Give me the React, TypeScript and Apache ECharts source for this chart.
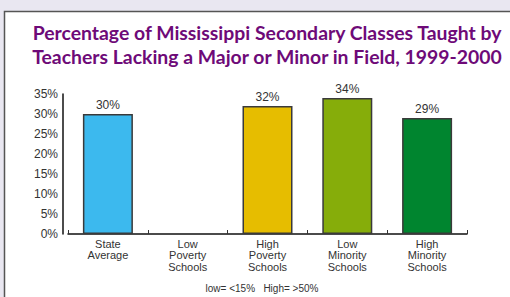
import React, { useEffect, useRef } from "react";
import * as echarts from "echarts";

const categories = ["State\nAverage", "Low\nPoverty\nSchools", "High\nPoverty\nSchools", "Low\nMinority\nSchools", "High\nMinority\nSchools"];
const values: (number | null)[] = [30, null, 32, 34, 29];
const barColors = ["#3cb9ee", "#cccccc", "#e6bd00", "#86ad0a", "#00852f"];
const yTicks = { min: 0, max: 35, interval: 5 };
const titleText = "Percentage of Mississippi Secondary Classes Taught by\nTeachers Lacking a Major or Minor in Field, 1999-2000";
const footnote = "low= <15%   High= >50%";

export default function App() {
  const ref = useRef<HTMLDivElement>(null);
  useEffect(() => {
    if (!ref.current) return;
    const chart = echarts.init(ref.current, undefined, { renderer: "svg" });
    chart.setOption({
      animation: false,
      backgroundColor: "#e9e7f1",
      textStyle: { fontFamily: "Liberation Sans" },
      graphic: [
        {
          type: "rect",
          shape: { x: 4.5, y: 11.5, width: 520, height: 300 },
          style: { fill: "#ffffff", stroke: "#555555", lineWidth: 1.5 },
          z: -10,
        },
        {
          type: "text",
          x: 262,
          y: 288,
          style: {
            text: footnote,
            fill: "#333333",
            font: "10px Liberation Sans",
            align: "center",
            verticalAlign: "middle",
          },
        },
      ],
      title: {
        text: titleText,
        left: 262,
        textAlign: "center",
        top: 15,
        textStyle: {
          color: "#6e0a78",
          fontSize: 19.4,
          fontWeight: "bold",
          lineHeight: 24,
          fontFamily: "Lato",
        },
      },
      grid: { left: 68, right: 43, top: 94, bottom: 63, containLabel: false },
      xAxis: {
        type: "category",
        data: categories,
        axisLine: { lineStyle: { color: "#111111", width: 1.5 } },
        axisTick: { show: true, inside: true, length: 4, alignWithLabel: false, lineStyle: { color: "#333" } },
        axisLabel: { color: "#333333", fontSize: 11, lineHeight: 11.5, margin: 4, interval: 0 },
      },
      yAxis: {
        type: "value",
        min: yTicks.min,
        max: yTicks.max,
        interval: yTicks.interval,
        offset: 5,
        axisLine: { show: true, lineStyle: { color: "#111111", width: 1.5 } },
        axisTick: { show: false },
        splitLine: { show: false },
        axisLabel: { color: "#333333", fontSize: 12, formatter: "{value}%", margin: 5 },
      },
      series: [
        {
          type: "bar",
          barWidth: 50,
          data: values.map((v, i) => ({
            value: v === null ? "-" : v,
            itemStyle: { color: barColors[i], borderColor: "#3a3a3a", borderWidth: 1.5 },
          })),
          label: {
            show: true,
            position: "top",
            distance: 3,
            color: "#333333",
            fontSize: 12,
            formatter: "{c}%",
          },
        },
      ],
    });
    return () => chart.dispose();
  }, []);
  return (
    <div
      ref={ref}
      style={{ position: "absolute", left: 0, top: 0, width: 510, height: 297 }}
    />
  );
}
